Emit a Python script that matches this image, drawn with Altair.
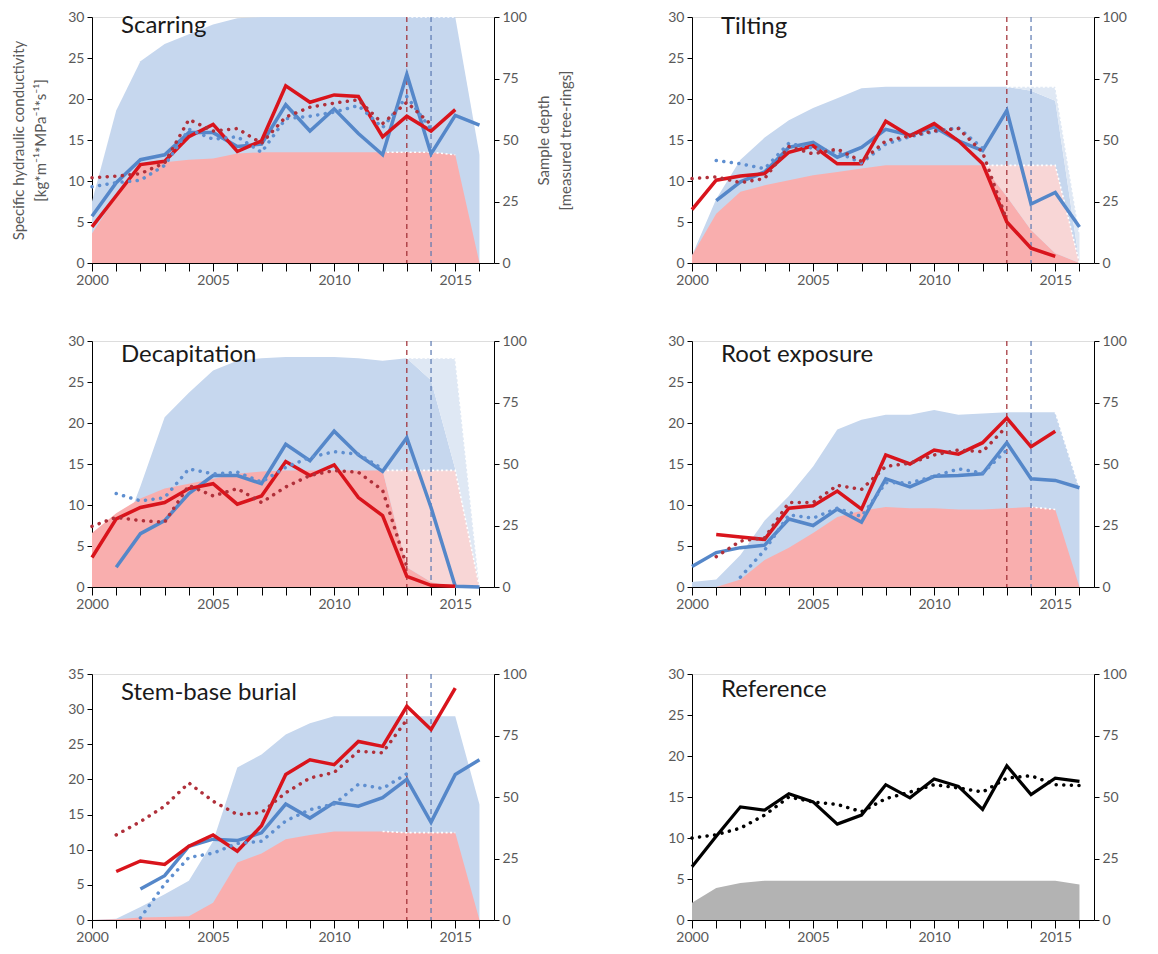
import altair as alt
import pandas as pd

N = None
YEARS = list(range(2000, 2017))
EVENT_YEARS = [2013, 2014]
EVENT_KIND = ["red", "blue"]

PANEL_NAMES = ["Scarring", "Tilting", "Decapitation", "Root exposure", "Stem-base burial", "Reference"]
LEFT_TITLE = ["Specific hydraulic conductivity", "[kg*m\u207b\u00b9*MPa\u207b\u00b9*s\u207b\u00b9]"]
RIGHT_TITLE = ["Sample depth", "[measured tree-rings]"]
X_TICKS = YEARS
RIGHT_TICKS = [0, 25, 50, 75, 100]

# ---------------- Scarring ----------------
SCAR_BLUE = [5.7, 9.8, 12.6, 13.2, 15.9, 15.9, 14.2, 14.5, 19.3, 16.1, 18.8, 15.8, 13.2, 23.0, 13.3, 18.0, 16.8]
SCAR_RED = [4.4, 8.2, 12.0, 12.4, 15.4, 16.9, 13.6, 14.9, 21.6, 19.6, 20.5, 20.3, 15.4, 17.9, 16.1, 18.7, N]
SCAR_BLUE_DOT = [9.3, 9.8, 10.1, 11.9, 16.3, 15.1, 15.4, 13.5, 17.6, 17.9, 18.4, 19.2, 16.5, 20.3, 16.3, N, N]
SCAR_RED_DOT = [10.4, 10.6, 10.9, 12.2, 17.5, 16.1, 16.4, 14.6, 17.8, 19.0, 19.5, 19.9, 17.0, 19.6, 16.9, N, N]
SCAR_BLUE_DEP = [25, 62, 82, 89, 93, 97, 99.5, 100, 100, 100, 100, 100, 100, 100, 100, 100, 44]
SCAR_RED_DEP = [12, 27, 40, 41, 42, 42.5, 44.5, 45, 45, 45, 45, 45, 45, 45, 45, 44, 0]
SCAR_BLUE_STIP = [N] * 13 + [100, 100, 100, N]
SCAR_RED_STIP = [N] * 12 + [45, 45, 45, 44, N]

# ---------------- Tilting ----------------
TILT_BLUE = [N, 7.6, 9.9, 11.1, 14.1, 14.7, 12.9, 14.1, 16.3, 15.6, 16.6, 14.9, 13.7, 18.6, 7.2, 8.6, 4.4]
TILT_RED = [6.5, 10.1, 10.6, 10.9, 13.5, 14.3, 12.1, 12.1, 17.3, 15.5, 17.0, 14.9, 12.1, 5.0, 1.8, 0.8, N]
TILT_BLUE_DOT = [N, 12.5, 12.1, 11.5, 14.6, 14.0, 13.5, 12.2, 14.5, 15.4, 16.0, 16.5, 14.0, N, N, N, N]
TILT_RED_DOT = [10.3, 10.5, 9.8, 10.3, 14.2, 13.3, 13.9, 12.4, 14.9, 15.5, 16.1, 16.4, 13.5, 5.2, N, N, N]
TILT_BLUE_DEP = [3, 26, 42, 51, 58, 63, 67, 71, 71.6, 71.6, 71.6, 71.6, 71.6, 71.6, 70, 66, 0]
TILT_RED_DEP = [3, 20, 29, 31.6, 33.6, 35.7, 37, 38.4, 39.7, 39.7, 39.7, 39.7, 39.7, 27, 13.4, 4, 0]
TILT_BLUE_STIP = [N] * 13 + [71.6, 71.6, 71.6, 12]
TILT_RED_STIP = [N] * 12 + [39.7, 39.7, 39.7, 39.7, 0]

# ---------------- Decapitation ----------------
DECA_BLUE = [N, 2.4, 6.5, 8.1, 11.4, 13.6, 13.6, 12.6, 17.4, 15.4, 19.0, 16.1, 14.1, 18.2, 9.7, 0.1, 0.0]
DECA_RED = [3.6, 8.3, 9.7, 10.3, 12.0, 12.6, 10.1, 11.1, 15.3, 13.6, 14.9, 10.9, 8.7, 1.3, 0.2, 0.1, N]
DECA_BLUE_DOT = [N, 11.4, 10.5, 10.9, 14.4, 13.8, 14.0, 12.8, 14.6, 15.8, 16.5, 16.2, 14.4, N, N, N, N]
DECA_RED_DOT = [7.4, 8.5, 8.1, 7.9, 12.4, 11.1, 12.0, 10.3, 12.2, 13.6, 14.2, 14.0, 11.8, 2.5, N, N, N]
DECA_BLUE_DEP = [0, 15, 41, 69, 79, 88, 92, 93, 93.5, 93.5, 93.5, 93, 92, 93, 84, 48, 0]
DECA_RED_DEP = [22, 30, 36, 40, 42, 44, 46, 47, 47.4, 47.4, 47.4, 47.4, 47.4, 8, 2, 0, 0]
DECA_BLUE_STIP = [N] * 13 + [93, 93, 93, 0]
DECA_RED_STIP = [N] * 12 + [47.4, 47.4, 47.4, 47.4, 0]

# ---------------- Root exposure ----------------
ROOT_BLUE = [2.5, 4.2, 4.8, 5.1, 8.3, 7.5, 9.5, 7.9, 13.2, 12.2, 13.5, 13.6, 13.8, 17.6, 13.2, 13.0, 12.1]
ROOT_RED = [N, 6.4, 6.1, 5.8, 9.6, 9.9, 11.7, 9.5, 16.1, 15.0, 16.7, 16.2, 17.6, 20.6, 17.1, 19.0, N]
ROOT_BLUE_DOT = [N, N, 1.2, 4.5, 8.8, 8.4, 9.6, 8.6, 12.7, 12.7, 13.5, 14.4, 13.9, 16.7, N, N, N]
ROOT_RED_DOT = [N, 3.7, 5.6, 6.0, 10.3, 10.3, 12.4, 11.9, 14.7, 15.1, 16.1, 16.7, 16.5, 19.6, N, N, N]
ROOT_BLUE_DEP = [2, 3, 13, 27, 37, 49, 64, 68, 70, 70, 72, 70, 70.5, 71, 71, 71, 40]
ROOT_RED_DEP = [0, 0, 3, 11, 16, 22, 28.5, 31, 32.5, 32, 32, 31.5, 31.5, 32, 32.5, 31.5, 0]
ROOT_BLUE_STIP = [N] * 15 + [71, 40]
ROOT_RED_STIP = [N] * 14 + [32.5, 31.5, N]

# ---------------- Stem-base burial ----------------
STEM_BLUE = [N, N, 4.4, 6.3, 10.5, 11.5, 11.3, 12.4, 16.5, 14.5, 16.7, 16.2, 17.4, 20.0, 13.9, 20.7, 22.8]
STEM_RED = [N, 6.9, 8.4, 7.9, 10.5, 12.1, 9.8, 13.4, 20.7, 22.8, 22.1, 25.4, 24.7, 30.4, 27.1, 33.0, N]
STEM_BLUE_DOT = [N, N, 0.3, 5.1, 8.9, 9.5, 10.9, 11.2, 14.1, 15.7, 16.5, 19.3, 18.7, 20.8, N, N, N]
STEM_RED_DOT = [N, 12.1, 14.0, 16.2, 19.5, 16.9, 15.0, 15.3, 18.1, 20.2, 21.0, 24.0, 23.8, 28.5, N, N, N]
STEM_BLUE_DEP = [0, 0.5, 5.3, 10.5, 16, 32, 62, 67.3, 75.4, 80, 82.8, 82.8, 82.8, 82.8, 82.8, 82.8, 47]
STEM_RED_DEP = [0, 0.3, 1, 1.2, 1.5, 7, 23.4, 27, 32.8, 34.6, 36, 36, 36, 35.5, 35.5, 35.5, 0]
STEM_BLUE_STIP = [N] * 17
STEM_RED_STIP = [N] * 12 + [36, 35.5, 35.5, 35.5, N]

# ---------------- Reference ----------------
REF_LINE = [6.5, 10.2, 13.8, 13.4, 15.4, 14.4, 11.7, 12.8, 16.5, 14.9, 17.2, 16.3, 13.5, 18.8, 15.3, 17.3, 16.9]
REF_DOT = [10.0, 10.4, 11.2, 12.8, 15.0, 14.4, 14.1, 13.2, 14.8, 15.6, 16.5, 16.1, 15.6, 17.3, 17.6, 16.5, 16.4]
REF_DEP = [7, 13, 15, 16, 16, 16, 16, 16, 16, 16, 16, 16, 16, 16, 16, 16, 14.4]
EMPTY = [N] * 17

# ---------------- styles ----------------
FONT = "Lato"
TXT = "#595959"
BLUE_AREA = "#C6D7EE"
RED_AREA = "#F9AEAE"
BLUE_STIP_C = "#DFE8F4"
RED_STIP_C = "#F8D6D6"
BLUE_LINE = "#5587C9"
RED_LINE = "#D9141C"
BLUE_DOTC = "#5F8FD0"
RED_DOTC = "#B0303A"
RULE_RED = "#9E2A30"
RULE_BLUE = "#5A78B0"

W, H = 402, 246


def x_enc():
    return alt.X(
        "year:Q",
        scale=alt.Scale(domain=[2000, 2016.6], nice=False, zero=False),
        axis=alt.Axis(
            values=X_TICKS,
            labelExpr="datum.value % 5 == 0 ? format(datum.value, 'd') : ''",
            grid=False, domainColor="#000", tickColor="#000", tickSize=8,
            labelPadding=2, labelFontSize=14, labelColor=TXT, labelFont=FONT,
            labelOverlap=False, labelFlush=False, title=None, minExtent=28, maxExtent=28,
        ),
    )


def make_panel(idx, d, lmax, title_dy, left_titles, title_op, events, ref=False):
    df = pd.DataFrame({"year": YEARS, **d})

    laxis_kw = dict(
        orient="left", values=list(range(0, lmax + 1, 5)), grid=False,
        domainColor="#000", tickColor="#000", tickSize=5, labelPadding=3,
        labelFontSize=14, labelColor=TXT, labelFont=FONT,
        minExtent=30, maxExtent=30,
    )
    raxis_kw = dict(
        orient="right", values=RIGHT_TICKS, grid=False,
        domainColor="#000", tickColor="#000", tickSize=5, labelPadding=3,
        labelFontSize=14, labelColor=TXT, labelFont=FONT,
        minExtent=34, maxExtent=34,
    )
    if left_titles:
        laxis_kw.update(title=LEFT_TITLE, titleFont=FONT, titleFontSize=15, titleFontWeight="normal",
                        titleColor=TXT, titleLineHeight=22, titleOpacity=title_op, titleX=-66)
        raxis_kw.update(title=RIGHT_TITLE, titleFont=FONT, titleFontSize=15, titleFontWeight="normal",
                        titleColor=TXT, titleLineHeight=22, titleOpacity=title_op,
                        titleAngle=270, titleBaseline="top", titleX=42)
    else:
        laxis_kw.update(title=None)
        raxis_kw.update(title=None)
    LAX = alt.Axis(**laxis_kw)
    RAX = alt.Axis(**raxis_kw)

    def yR(f):
        return alt.Y(f"{f}:Q", scale=alt.Scale(domain=[0, 100], nice=False), axis=RAX)

    def yL(f):
        return alt.Y(f"{f}:Q", scale=alt.Scale(domain=[0, lmax], nice=False), axis=LAX)

    base = alt.Chart(df)

    def valid(f):
        return f"isValid(datum.{f})"

    right_layers = []
    if ref:
        right_layers.append(base.mark_area(color="#B3B3B3").encode(x=x_enc(), y=yR("dep_b")))
    else:
        right_layers.append(base.mark_area(color=BLUE_AREA).encode(x=x_enc(), y=yR("dep_b")))
        right_layers.append(base.mark_area(color=RED_AREA).encode(x=x_enc(), y=yR("dep_r")))
        for f_dep, f_st, col in [("dep_b", "stip_b", BLUE_STIP_C), ("dep_r", "stip_r", RED_STIP_C)]:
            if any(v is not None for v in d[f_st]):
                right_layers.append(
                    base.transform_filter(valid(f_st)).mark_area(color=col)
                    .encode(x=x_enc(), y=yR(f_dep), y2=alt.Y2(f"{f_st}:Q"))
                )
                right_layers.append(
                    base.transform_filter(valid(f_st)).mark_line(color="white", strokeWidth=1.6, strokeDash=[2, 2.5])
                    .encode(x=x_enc(), y=yR(f_st))
                )
    right_group = alt.layer(*right_layers)

    layers = [right_group]
    if events:
        rdf = pd.DataFrame({"year": EVENT_YEARS, "kind": EVENT_KIND})
        layers.append(
            alt.Chart(rdf).mark_rule(strokeDash=[5, 4], strokeWidth=1.2).encode(
                x=x_enc(),
                color=alt.Color("kind:N", scale=alt.Scale(domain=["red", "blue"], range=[RULE_RED, RULE_BLUE]), legend=None),
            )
        )

    left_layers = []
    if ref:
        left_layers.append(base.transform_filter(valid("line_b")).mark_line(color="#000", strokeWidth=3.2)
                           .encode(x=x_enc(), y=yL("line_b")))
        left_layers.append(base.transform_filter(valid("dot_b")).mark_line(color="#000", strokeWidth=3.5, strokeDash=[0.1, 7.5], strokeCap="round")
                           .encode(x=x_enc(), y=yL("dot_b")))
    else:
        left_layers.append(base.transform_filter(valid("line_b")).mark_line(color=BLUE_LINE, strokeWidth=3.5)
                           .encode(x=x_enc(), y=yL("line_b")))
        left_layers.append(base.transform_filter(valid("line_r")).mark_line(color=RED_LINE, strokeWidth=3.5)
                           .encode(x=x_enc(), y=yL("line_r")))
        left_layers.append(base.transform_filter(valid("dot_b")).mark_line(color=BLUE_DOTC, strokeWidth=3.5, strokeDash=[0.1, 7.5], strokeCap="round")
                           .encode(x=x_enc(), y=yL("dot_b")))
        left_layers.append(base.transform_filter(valid("dot_r")).mark_line(color=RED_DOTC, strokeWidth=3.5, strokeDash=[0.1, 7.5], strokeCap="round")
                           .encode(x=x_enc(), y=yL("dot_r")))
    layers.append(alt.layer(*left_layers))

    tdf = pd.DataFrame({"t": [PANEL_NAMES[idx]]})
    layers.append(
        alt.Chart(tdf).mark_text(align="left", baseline="alphabetic", font=FONT, fontSize=24, color="#1a1a1a")
        .encode(text="t:N", x=alt.value(29), y=alt.value(title_dy))
    )

    return alt.layer(*layers).resolve_scale(y="independent", color="independent").properties(width=W, height=H)


def dd(lb, lr, db, dr, pb, pr, sb, sr):
    return {"line_b": lb, "line_r": lr, "dot_b": db, "dot_r": dr,
            "dep_b": pb, "dep_r": pr, "stip_b": sb, "stip_r": sr}


p1 = make_panel(0, dd(SCAR_BLUE, SCAR_RED, SCAR_BLUE_DOT, SCAR_RED_DOT, SCAR_BLUE_DEP, SCAR_RED_DEP, SCAR_BLUE_STIP, SCAR_RED_STIP),
                30, 16, True, 1, True)
p2 = make_panel(1, dd(TILT_BLUE, TILT_RED, TILT_BLUE_DOT, TILT_RED_DOT, TILT_BLUE_DEP, TILT_RED_DEP, TILT_BLUE_STIP, TILT_RED_STIP),
                30, 17, False, 0, True)
p3 = make_panel(2, dd(DECA_BLUE, DECA_RED, DECA_BLUE_DOT, DECA_RED_DOT, DECA_BLUE_DEP, DECA_RED_DEP, DECA_BLUE_STIP, DECA_RED_STIP),
                30, 21, True, 0, True)
p4 = make_panel(3, dd(ROOT_BLUE, ROOT_RED, ROOT_BLUE_DOT, ROOT_RED_DOT, ROOT_BLUE_DEP, ROOT_RED_DEP, ROOT_BLUE_STIP, ROOT_RED_STIP),
                30, 21, False, 0, True)
p5 = make_panel(4, dd(STEM_BLUE, STEM_RED, STEM_BLUE_DOT, STEM_RED_DOT, STEM_BLUE_DEP, STEM_RED_DEP, STEM_BLUE_STIP, STEM_RED_STIP),
                35, 26, True, 0, True)
p6 = make_panel(5, dd(REF_LINE, EMPTY, REF_DOT, EMPTY, REF_DEP, EMPTY, EMPTY, EMPTY),
                30, 23, False, 0, False, ref=True)

row1 = alt.hconcat(p1, p2, spacing=87)
row2 = alt.hconcat(p3, p4, spacing=87)
row3 = alt.hconcat(p5, p6, spacing=87)

chart = (
    alt.vconcat(row1, alt.vconcat(row2, row3, spacing=50), spacing=41)
    .properties(padding={"left": 10, "top": 9, "right": 5, "bottom": 5}, background="white")
    .configure_view(stroke=None)
    .configure(font=FONT)
)

chart.save("out.html", embed_options={"renderer": "svg", "actions": False})
